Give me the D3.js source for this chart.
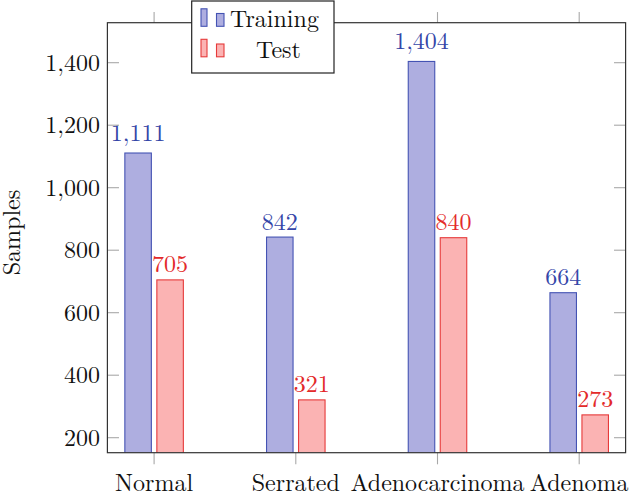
<!DOCTYPE html>
<html><head><meta charset="utf-8">
<script src="https://cdn.jsdelivr.net/npm/d3@7"></script>
<style>body{margin:0;background:#fff}svg{display:block}</style>
</head><body>
<svg id="c" width="630" height="498"></svg>
<script>
const categories = ["Normal","Serrated","Adenocarcinoma","Adenoma"];
const training = [1111, 842, 1404, 664];
const test = [705, 321, 840, 273];
const yTicks = [200,400,600,800,1000,1200,1400];
const seriesNames = ["Training","Test"];

const FONT = '"Latin Modern Roman", "Liberation Serif", serif';
const svg = d3.select("#c");
const L=107.4, R=625.6, T=22.7, B=452.7;
const fmt = d3.format(",");
const x = d3.scalePoint().domain(categories).range([154.1, 579.2]);
const y = d3.scaleLinear().domain([200,1400]).range([437.7,62.7]);
const bw = 26.5, off = 16;
const fs = 24;

const colors = {
  Training:{fill:"#aeaee0", stroke:"#4453b3", text:"#3546a8"},
  Test:{fill:"#fbb3b3", stroke:"#e63a3a", text:"#e32a2a"}
};

const plot = svg.append("g");
plot.append("clipPath").attr("id","clip").append("rect").attr("x",L).attr("y",T).attr("width",R-L).attr("height",B-T);
const bars = plot.append("g").attr("clip-path","url(#clip)");
[[training,"Training",-off],[test,"Test",off]].forEach(([vals,name,o])=>{
  const c = colors[name];
  bars.selectAll(null).data(vals).enter().append("rect")
    .attr("x",(d,i)=>x(categories[i])+o-bw/2)
    .attr("y",d=>y(d))
    .attr("width",bw)
    .attr("height",d=>y(0)-y(d))
    .attr("fill",c.fill).attr("stroke",c.stroke).attr("stroke-width",1.1);
  plot.selectAll(null).data(vals).enter().append("text")
    .attr("x",(d,i)=>x(categories[i])+o)
    .attr("y",d=>y(d)-7.5-(fmt(d).includes(",")?4.5:0))
    .attr("text-anchor","middle").attr("font-size",fs).attr("fill",c.text)
    .style("font-family",FONT)
    .text(d=>fmt(d));
});

// ticks
const tk = svg.append("g").attr("stroke","#a8a8a8").attr("stroke-width",1.1);
categories.forEach(cat=>{
  tk.append("line").attr("x1",x(cat)).attr("x2",x(cat)).attr("y1",B).attr("y2",B+11.6);
  tk.append("line").attr("x1",x(cat)).attr("x2",x(cat)).attr("y1",T).attr("y2",T-10.6);
});
yTicks.forEach(t=>{
  tk.append("line").attr("x1",L).attr("x2",L+11.6).attr("y1",y(t)).attr("y2",y(t));
  tk.append("line").attr("x1",R).attr("x2",R-11.6).attr("y1",y(t)).attr("y2",y(t));
});
svg.append("rect").attr("x",L).attr("y",T).attr("width",R-L).attr("height",B-T)
  .attr("fill","none").attr("stroke","#333").attr("stroke-width",1.2);

// tick labels
svg.append("g").selectAll("text").data(yTicks).enter().append("text")
  .attr("x",100).attr("y",d=>y(d)+8).attr("text-anchor","end").attr("font-size",fs).attr("fill","#111")
  .style("font-family",FONT)
  .text(d=>fmt(d));
svg.append("g").selectAll("text").data(categories).enter().append("text")
  .attr("x",d=>x(d)).attr("y",491).attr("text-anchor","middle").attr("font-size",fs).attr("fill","#111")
  .style("font-family",FONT)
  .text(d=>d);
svg.append("text").attr("transform","translate(20,232.5) rotate(-90)").attr("text-anchor","middle")
  .attr("font-size",fs).attr("fill","#111").style("font-family",FONT).text("Samples");

// legend
const lg = svg.append("g");
lg.append("rect").attr("x",191.7).attr("y",1).attr("width",142.3).attr("height",72)
  .attr("fill","#fff").attr("stroke","#222").attr("stroke-width",1.2);
seriesNames.forEach((n,i)=>{
  const c = colors[n], oy = i*30.5;
  lg.append("rect").attr("x",201).attr("y",8.8+oy).attr("width",6).attr("height",17.5)
    .attr("fill",c.fill).attr("stroke",c.stroke).attr("stroke-width",1.1);
  lg.append("rect").attr("x",216.5).attr("y",13.5+oy).attr("width",7.5).attr("height",12.8)
    .attr("fill",c.fill).attr("stroke",c.stroke).attr("stroke-width",1.1);
  lg.append("text").attr("x",i===0?274.5:278.5).attr("y",27+oy).attr("text-anchor","middle")
    .attr("font-size",fs).attr("fill","#111").style("font-family",FONT).text(n);
});
</script>
</body></html>
